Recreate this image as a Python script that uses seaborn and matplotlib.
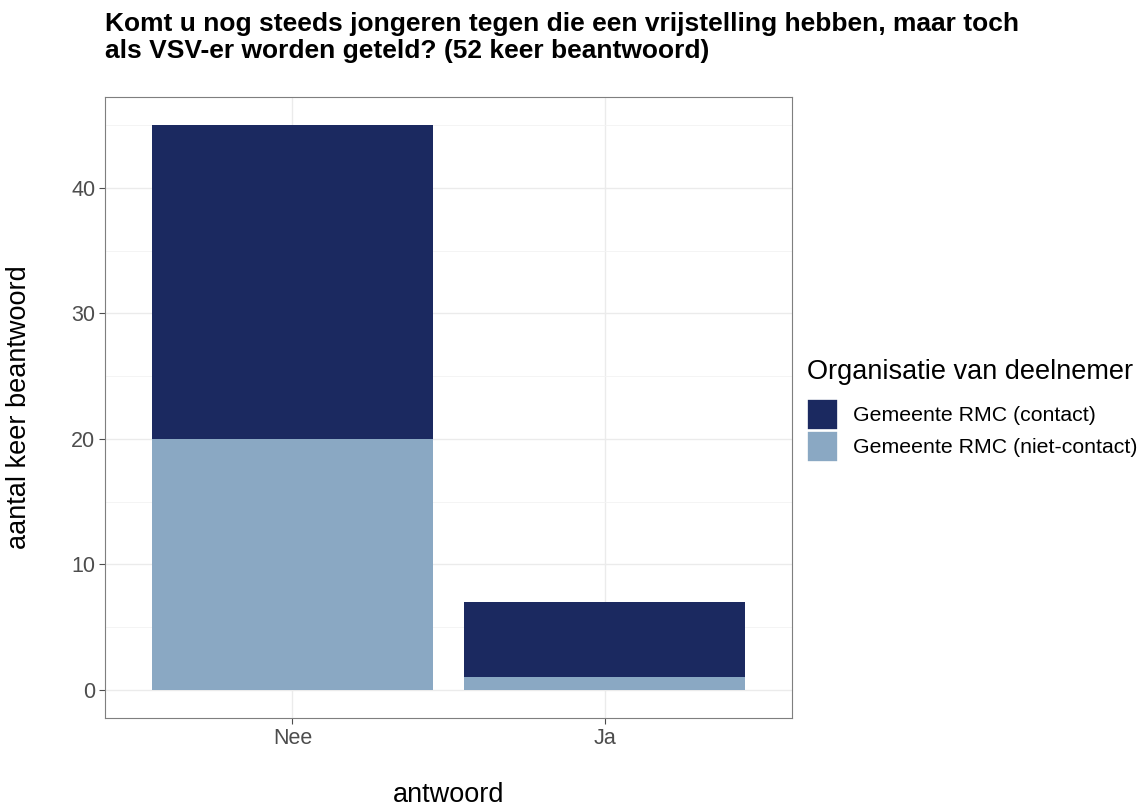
import numpy as np
import pandas as pd
import matplotlib
matplotlib.use("Agg")
import matplotlib.pyplot as plt
from matplotlib.patches import Patch
from matplotlib.ticker import MultipleLocator
import seaborn as sns

# data
answers = ["Nee", "Ja"]
contact = [25, 6]
niet_contact = [20, 1]
groups = ["Gemeente RMC (contact)", "Gemeente RMC (niet-contact)"]
colors = ["#1B2960", "#8AA8C3"]

sns.set_style("white")
plt.rcParams["font.family"] = ["Liberation Sans", "DejaVu Sans"]
plt.rcParams["text.color"] = "black"
plt.rcParams["axes.labelcolor"] = "black"

df = pd.DataFrame({"antwoord": answers, "contact": contact, "niet_contact": niet_contact})
df["totaal"] = df["contact"] + df["niet_contact"]

fig = plt.figure(figsize=(11.48, 8.09), dpi=100)
ax = fig.add_axes([0.0915, 0.1125, 0.5985, 0.7675])

# stacked bars: total in dark, lower part in light
sns.barplot(data=df, x="antwoord", y="totaal", color=colors[0], width=0.9,
            saturation=1, linewidth=0, ax=ax, zorder=3)
sns.barplot(data=df, x="antwoord", y="niet_contact", color=colors[1], width=0.9,
            saturation=1, linewidth=0, ax=ax, zorder=3)

ax.set_xlim(-0.6, 1.6)
ax.set_ylim(-2.25, 47.25)
ax.yaxis.set_major_locator(MultipleLocator(10))
ax.yaxis.set_minor_locator(MultipleLocator(5))
ax.grid(which="major", color="#EBEBEB", linewidth=1.0, zorder=0)
ax.grid(which="minor", axis="y", color="#F3F3F3", linewidth=0.6, zorder=0)
ax.set_axisbelow(True)
for s in ax.spines.values():
    s.set_color("#7F7F7F")
    s.set_linewidth(0.8)
ax.tick_params(axis="both", which="major", labelsize=15.5, colors="#4D4D4D",
               length=4, width=0.8, direction="out", left=True, bottom=True, pad=3)
ax.tick_params(axis="y", which="minor", length=0)

ax.set_xlabel("antwoord", fontsize=19.5, labelpad=24)
ax.set_ylabel("aantal keer beantwoord", fontsize=19.5, labelpad=28)

fig.text(0.0915, 0.985,
         "Komt u nog steeds jongeren tegen die een vrijstelling hebben, maar toch\n"
         "als VSV-er worden geteld? (52 keer beantwoord)",
         fontsize=19, fontweight="bold", color="black", ha="left", va="top",
         linespacing=1.15)

handles = [Patch(facecolor=c, edgecolor="white", linewidth=1.2) for c in colors]
fig.legend(handles, groups, title="Organisatie van deelnemer",
           loc="upper left", bbox_to_anchor=(0.703, 0.556), frameon=False,
           fontsize=15.3, title_fontsize=19.5, handlelength=1.45, handleheight=1.87,
           handletextpad=0.7, labelspacing=0.02, borderaxespad=0, borderpad=0)
leg = fig.legends[0]
leg._legend_box.align = "left"
leg._legend_box.sep = 10

fig.savefig("out.png", dpi=100)
